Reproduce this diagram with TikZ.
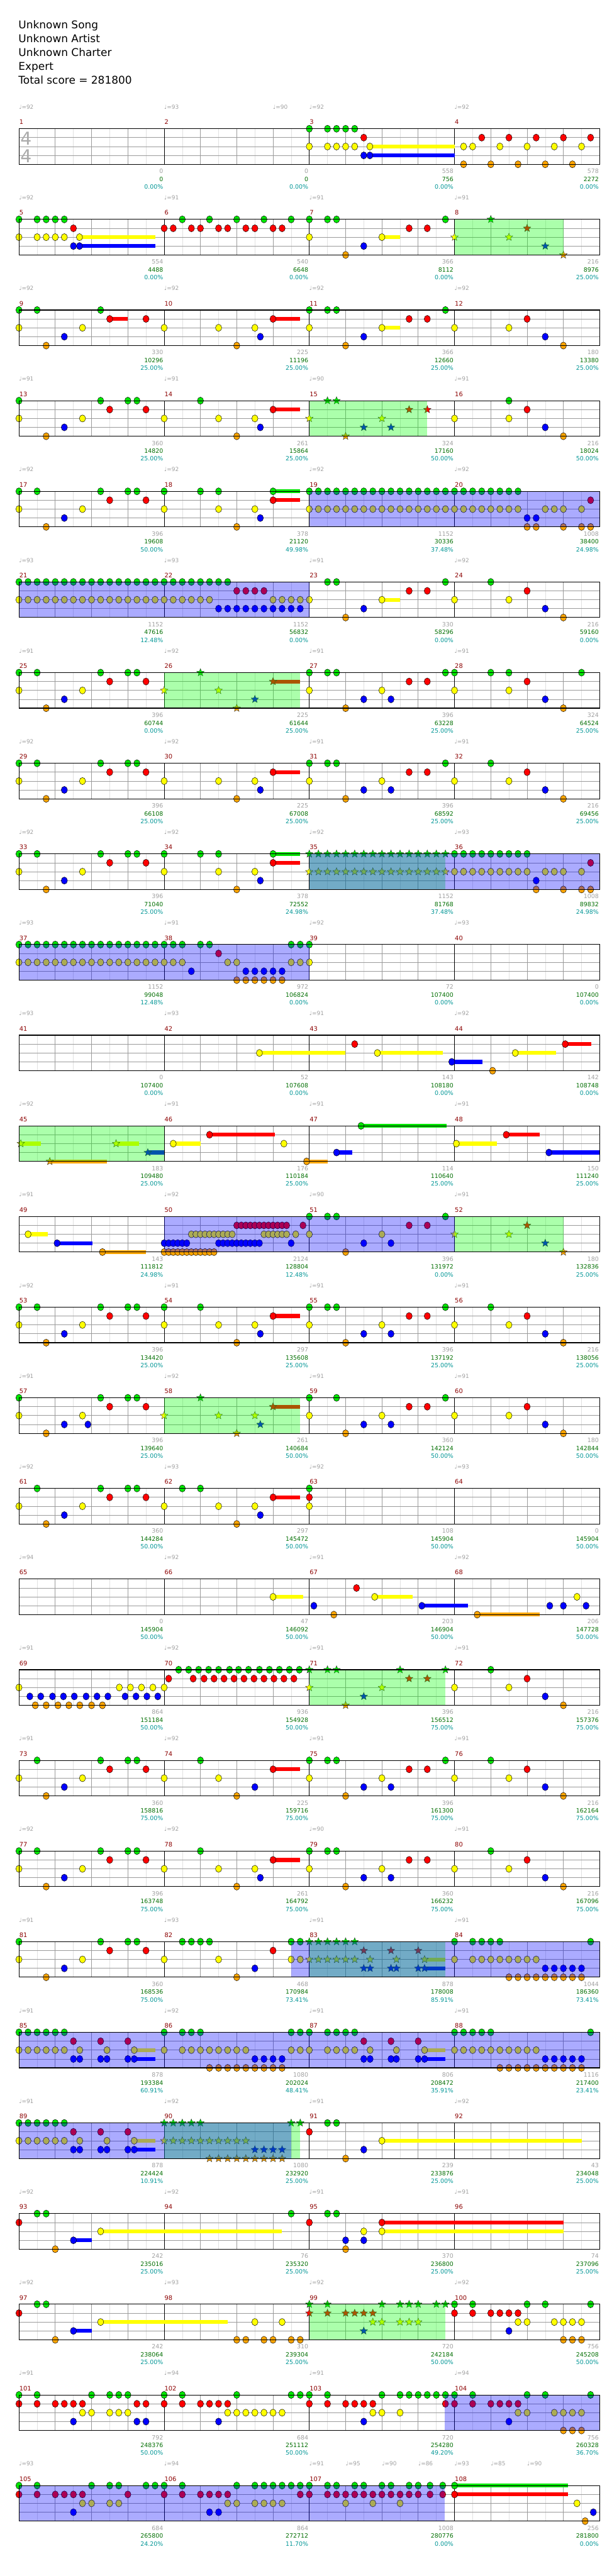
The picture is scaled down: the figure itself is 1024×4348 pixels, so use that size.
\documentclass[tikz,border=0pt]{standalone}
\usepackage{fontspec}
\setmainfont{DejaVu Sans}
\usetikzlibrary{shapes.geometric}
\definecolor{c0}{RGB}{0,230,0}
\definecolor{c1}{RGB}{255,0,0}
\definecolor{c2}{RGB}{255,255,0}
\definecolor{c3}{RGB}{0,0,255}
\definecolor{c4}{RGB}{255,165,0}
\definecolor{lgray}{RGB}{160,160,160}
\definecolor{lgreen}{RGB}{0,110,0}
\definecolor{lteal}{RGB}{0,150,150}
\definecolor{mred}{RGB}{140,0,0}
\definecolor{gline}{RGB}{155,155,155}
\definecolor{eline}{RGB}{225,225,225}
\tikzset{
  notec/.style={ellipse,draw=black,line width=0.5pt,minimum width=10.5pt,minimum height=12pt,inner sep=0pt},
  starc/.style={star,star points=5,star point ratio=2.3,draw=black!85,line width=0.4pt,minimum size=13.5pt,inner sep=0pt},
  eighthl/.style={eline,line width=0.6pt},
  quarterl/.style={gline,line width=0.8pt},
  lanel/.style={gline,line width=0.8pt},
  barl/.style={black,line width=0.7pt},
  borderl/.style={black,line width=1.2pt},
  smalltxt/.style={inner sep=0pt,font=\fontsize{10}{11}\selectfont},
}
\newcommand\nnote[2]{\foreach \q in {#2}{\node[notec,fill=c#1] at (\q,#1) {};}}
\newcommand\nstar[2]{\foreach \q in {#2}{\node[starc,fill=c#1] at (\q,#1) {};}}
\newcommand\nsus[3]{\fill[c#1] (#2,#1-0.22) rectangle (#3,#1+0.22);}
\newcommand\ngreen[2]{\fill[green,opacity=0.33] (#1,0) rectangle (#2,4);}
\newcommand\nblue[2]{\fill[blue,opacity=0.33] (#1,0) rectangle (#2,4);}
\newcommand\nlabels[1]{\foreach \a/\b/\c [count=\k] in {#1}{%
  \node[smalltxt,text=lgray,anchor=base east,xshift=-1.5pt,yshift=-15.3pt] at (16*\k,4) {\a};
  \node[smalltxt,text=lgreen,anchor=base east,xshift=-1.5pt,yshift=-28.7pt] at (16*\k,4) {\b};
  \node[smalltxt,text=lteal,anchor=base east,xshift=-1.5pt,yshift=-41.7pt] at (16*\k,4) {\c\%};}}
\newcommand\ntempo[1]{\foreach \a/\b in {#1}{%
  \node[inner sep=0pt,text=lgray,anchor=base west,yshift=33.3pt,font=\fontsize{9.5}{10}\selectfont] at (\a,0) {♩=\b};}}
\newcommand\nstaff{%
  \foreach \i in {2,6,...,62} \draw[eighthl] (\i,0)--(\i,4);
  \foreach \i in {4,8,...,60} \draw[quarterl] (\i,0)--(\i,4);
  \foreach \i in {1,2,3} \draw[lanel] (0,\i)--(64,\i);
  \foreach \i in {16,32,48} \draw[barl] (\i,0)--(\i,4);
  \draw[borderl] (0,0) rectangle (64,4);}
\newcommand\nrow[3]{%
  \begin{scope}[x=15.3125pt,y=-15pt,shift={(32pt,{-217.3pt-153pt*#1})}]
    \nstaff
    #3
    \draw[borderl] (0,0) rectangle (64,4);
    \foreach \k in {0,1,2,3}{\pgfmathtruncatemacro\mn{#2+\k}
      \node[inner sep=0pt,text=mred,anchor=base west,xshift=0.5pt,yshift=7.3pt,font=\fontsize{10.5}{11}\selectfont] at (16*\k,0) {\mn};}
  \end{scope}}
\begin{document}
\begin{tikzpicture}
\useasboundingbox (0,0) rectangle (1024pt,-4348pt);
\fill[white] (0,0) rectangle (1024pt,-4348pt);
\foreach \t [count=\i from 0] in {Unknown Song,Unknown Artist,Unknown Charter,Expert,Total score = 281800}
  \node[inner sep=0pt,anchor=base west,font=\fontsize{18}{20}\selectfont] (title\i) at (31pt,{-48.5pt-23.2pt*\i}) {\t};
% row 0
\nrow{0}{1}{
 \ntempo{0/92,16/93,28/90,32/92,48/92}
 \node[text=black!33,font=\fontsize{30}{30}\selectfont,inner sep=0pt] (ts1) at (0.78,1.08) {4};
 \node[text=black!33,font=\fontsize{30}{30}\selectfont,inner sep=0pt] (ts2) at (0.78,3.08) {4};
 \nsus{2}{38.67}{48}\nsus{3}{38.67}{48}
 \nnote{0}{32,34,35,36,37}
 \nnote{1}{38,51,54,57,60,63}
 \nnote{2}{32,34,35,36,37,38.67,49,50,53,56,59,62}
 \nnote{3}{38,38.67}
 \nnote{4}{49,52,55,58,61}
 \nlabels{0/0/0.00,0/0/0.00,558/756/0.00,578/2272/0.00}
}
% row 1
\nrow{1}{5}{
 \ntempo{0/92,16/91,32/91,48/91}
 \nsus{2}{6.67}{15}\nsus{3}{6.67}{15}\nsus{2}{40}{42}
 \nnote{0}{0,2,3,4,5,18,21,24,27,30,32,34,35,47}
 \nnote{1}{6,16,17,19,20,22,23,25,26,28,29,43,45}
 \nnote{2}{0,2,3,4,5,6.67,32,40}
 \nnote{3}{6,6.67,38}
 \nnote{4}{36}
 \nstar{0}{52}\nstar{1}{56}\nstar{2}{48,54}\nstar{3}{58}\nstar{4}{60}
 \ngreen{48}{60}
 \nlabels{554/4488/0.00,540/6648/0.00,366/8112/0.00,216/8976/25.00}
}
% row 2
\nrow{2}{9}{
 \ntempo{0/92,16/92,32/92,48/92}
 \nsus{1}{10}{12}\nsus{1}{28}{31}\nsus{2}{40}{42}
 \nnote{0}{0,2,9,32,34,35,47}
 \nnote{1}{10,14,28,43,45,56}
 \nnote{2}{0,7,16,22,26,32,40,48,54}
 \nnote{3}{5,26.6,38,58}
 \nnote{4}{3,24,36,60}
 \nlabels{330/10296/25.00,225/11196/25.00,366/12660/25.00,180/13380/25.00}
}
% row 3
\nrow{3}{13}{
 \ntempo{0/91,16/91,32/90,48/91}
 \nsus{1}{28}{31}
 \nnote{0}{0,9,12,13,20,54}
 \nnote{1}{10,14,28,56}
 \nnote{2}{0,7,16,22,26,48,54}
 \nnote{3}{5,26.6,58}
 \nnote{4}{3,24,60}
 \nstar{0}{34,35}\nstar{1}{43,45}\nstar{2}{32,40}\nstar{3}{38,41}\nstar{4}{36}
 \ngreen{32}{45}
 \nlabels{360/14820/25.00,261/15864/25.00,324/17160/50.00,216/18024/50.00}
}
% row 4
\nrow{4}{17}{
 \ntempo{0/92,16/92,32/92,48/92}
 \nsus{0}{28}{31}\nsus{1}{28}{31}
 \nnote{0}{0,2,9,12,13,16,20,22,28}
 \nnote{0}{32,33,...,55}
 \nnote{1}{10,14,28,63}
 \nnote{2}{0,7,16,22,26,58,59,60,62}
 \nnote{2}{32,33,...,55}
 \nnote{3}{5,26.6,56,57}
 \nnote{4}{3,24,56,57,60,62,63}
 \nblue{32}{64}
 \nlabels{396/19608/50.00,378/21120/49.98,1152/30336/37.48,1008/38400/24.98}
}
% row 5
\nrow{5}{21}{
 \ntempo{0/93,16/93,32/91,48/92}
 \nsus{2}{40}{42}
 \nnote{0}{0,1,...,23}
 \nnote{0}{34,35,47,52}
 \nnote{1}{24,25,26,27,43,45,56}
 \nnote{2}{0,1,...,21}
 \nnote{2}{28,29,30,31,32,40,48,54}
 \nnote{3}{22,23,...,31}
 \nnote{3}{38,58}
 \nnote{4}{36,60}
 \nblue{0}{32}
 \nlabels{1152/47616/12.48,1152/56832/0.00,330/58296/0.00,216/59160/0.00}
}
% row 6
\nrow{6}{25}{
 \ntempo{0/91,16/92,32/91,48/91}
 \nsus{1}{28}{31}
 \nnote{0}{0,2,9,12,13,32,34,35,47,48,52,54,62}
 \nnote{1}{10,14,43,45,56}
 \nnote{2}{0,7,32,40,48,54}
 \nnote{3}{5,38,41,58}
 \nnote{4}{3,36,60}
 \nstar{0}{20}\nstar{1}{28}\nstar{2}{16,22}\nstar{3}{26}\nstar{4}{24}
 \ngreen{16}{31}
 \nlabels{396/60744/0.00,225/61644/25.00,396/63228/25.00,324/64524/25.00}
}
% row 7
\nrow{7}{29}{
 \ntempo{0/92,16/92,32/91,48/91}
 \nsus{1}{28}{31}
 \nnote{0}{0,2,9,12,13,32,34,35,47,52}
 \nnote{1}{10,14,28,43,45,56}
 \nnote{2}{0,7,16,22,26,32,40,48,54}
 \nnote{3}{5,26.6,38,41,58}
 \nnote{4}{3,24,36,60}
 \nlabels{396/66108/25.00,225/67008/25.00,396/68592/25.00,216/69456/25.00}
}
% row 8
\nrow{8}{33}{
 \ntempo{0/92,16/92,32/92,48/93}
 \nsus{0}{28}{31}\nsus{1}{28}{31}
 \nnote{0}{0,2,9,12,13,16,20,22,28}
 \nnote{0}{48,49,...,56}
 \nnote{1}{10,14,28,63}
 \nnote{2}{0,7,16,22,26,58,59,60,62}
 \nnote{2}{48,49,...,56}
 \nnote{3}{5,26.6,57}
 \nnote{4}{3,24,57,60,62,63}
 \nstar{0}{32,33,...,47}\nstar{2}{32,33,...,47}
 \ngreen{32}{47}\nblue{32}{64}
 \nlabels{396/71040/25.00,378/72552/24.98,1152/81768/37.48,1008/89832/24.98}
}
% row 9
\nrow{9}{37}{
 \ntempo{0/93,16/91,32/92,48/93}
 \nnote{0}{0,1,...,18}
 \nnote{0}{20,21,30,31,32}
 \nnote{1}{22}
 \nnote{2}{0,1,...,18}
 \nnote{2}{23,24,30,31,32}
 \nnote{3}{19,25,26,27,28,29}
 \nnote{4}{24,25,26,27,28,29}
 \nblue{0}{32}
 \nlabels{1152/99048/12.48,972/106824/0.00,72/107400/0.00,0/107400/0.00}
}
% row 10
\nrow{10}{41}{
 \ntempo{0/93,16/93,32/91,48/92}
 \nsus{2}{26.5}{36}\nsus{2}{39.5}{46.7}\nsus{2}{54.7}{59.2}\nsus{1}{60.2}{63.1}\nsus{3}{47.7}{51.1}
 \nnote{1}{37,60.2}
 \nnote{2}{26.5,39.5,54.7}
 \nnote{3}{47.7}
 \nnote{4}{52.2}
 \nlabels{0/107400/0.00,52/107608/0.00,143/108180/0.00,142/108748/0.00}
}
% row 11
\nrow{11}{45}{
 \ntempo{0/92,16/91,32/91,48/91}
 \nsus{2}{0.2}{2.4}\nsus{2}{10.7}{13.2}\nsus{3}{14.2}{16}\nsus{4}{3.4}{9.7}
 \nsus{2}{17}{20}\nsus{1}{21}{28.2}\nsus{4}{31.7}{34}\nsus{3}{35}{36.7}\nsus{0}{37.7}{47.1}
 \nsus{2}{48.2}{52.7}\nsus{1}{53.7}{57.4}\nsus{3}{58.4}{64}
 \nstar{2}{0.2,10.7}\nstar{3}{14.2}\nstar{4}{3.4}
 \nnote{2}{17,29.2,48.2}
 \nnote{1}{21,53.7}
 \nnote{4}{31.7}
 \nnote{3}{35,58.4}
 \nnote{0}{37.7}
 \ngreen{0}{16}
 \nlabels{183/109480/25.00,176/110184/25.00,114/110640/25.00,150/111240/25.00}
}
% row 12
\nrow{12}{49}{
 \ntempo{0/91,16/92,32/90,48/91}
 \nsus{2}{1}{3.2}\nsus{3}{4.2}{8.1}\nsus{4}{9.2}{14}
 \nnote{2}{1,30.5,32,40}
 \nnote{2}{19,19.5,...,23.5}
 \nnote{2}{27,27.5,...,29.5}
 \nnote{3}{4.2,30,38,41}
 \nnote{3}{16,16.5,...,18.5}
 \nnote{3}{22,22.5,...,26.5}
 \nnote{4}{9.2,36}
 \nnote{4}{16,16.5,...,21.5}
 \nnote{1}{24,24.5,...,29.5}
 \nnote{1}{31.3,43,45}
 \nnote{0}{32,34,35,47}
 \nstar{2}{48,54}\nstar{1}{56}\nstar{3}{58}\nstar{4}{60}
 \ngreen{48}{60}\nblue{16}{48}
 \nlabels{143/111812/24.98,2124/128804/12.48,396/131972/0.00,180/132836/25.00}
}
% row 13
\nrow{13}{53}{
 \ntempo{0/92,16/91,32/91,48/91}
 \nsus{1}{28}{31}
 \nnote{0}{0,2,9,12,13,16,20,32,34,35,47,52}
 \nnote{1}{10,14,28,43,45,56}
 \nnote{2}{0,7,16,22,26,32,40,48,54}
 \nnote{3}{5,26.6,38,41,58}
 \nnote{4}{3,24,36,60}
 \nlabels{396/134420/25.00,297/135608/25.00,396/137192/25.00,216/138056/25.00}
}
% row 14
\nrow{14}{57}{
 \ntempo{0/91,16/92,32/91,48/91}
 \nsus{1}{28}{31}
 \nnote{0}{0,9,12,13,32,35,47}
 \nnote{1}{10,14,43,45,56}
 \nnote{2}{0,7,32,40,48,54}
 \nnote{3}{5,7.6,38,41,58}
 \nnote{4}{3,36,60}
 \nstar{0}{20}\nstar{1}{28}\nstar{2}{16,22,26}\nstar{3}{26.6}\nstar{4}{24}
 \ngreen{16}{31}
 \nlabels{396/139640/25.00,261/140684/50.00,360/142124/50.00,180/142844/50.00}
}
% row 15
\nrow{15}{61}{
 \ntempo{0/92,16/93,32/92,48/93}
 \nsus{1}{28}{31}
 \nnote{0}{2,9,12,13,18,20,32}
 \nnote{1}{10,14,28,32}
 \nnote{2}{0,7,16,22,26,32}
 \nnote{3}{5,26.6}
 \nnote{4}{3,24}
 \nlabels{360/144284/50.00,297/145472/50.00,108/145904/50.00,0/145904/50.00}
}
% row 16
\nrow{16}{65}{
 \ntempo{0/94,16/92,32/91,48/92}
 \nsus{2}{28}{31.3}\nsus{2}{39.2}{43.4}\nsus{3}{44.4}{49.5}\nsus{4}{50.5}{57.4}
 \nnote{2}{28,39.2,61.5}
 \nnote{1}{37.2}
 \nnote{3}{32.5,44.4,58.5,60,62.5}
 \nnote{4}{34.7,50.5}
 \nlabels{0/145904/50.00,47/146092/50.00,203/146904/50.00,206/147728/50.00}
}
% row 17
\nrow{17}{69}{
 \ntempo{0/91,16/92,32/91,48/91}
 \nnote{2}{0,11.06,12.28,13.5,14.76,16,48,54}
 \nnote{3}{1.2,2.4,3.7,4.9,6.1,7.4,8.6,9.8,11.7,12.9,14.1,15.3,58}
 \nnote{4}{1.8,3.0,4.3,5.5,6.7,8,9.2,60}
 \nnote{1}{16.5,19.2,20.4,21.5,22.6,23.7,24.8,25.9,27,28.1,29.2,30.3,56}
 \nnote{0}{17.6,18.7,19.8,20.9,22,23.2,24.2,25.3,26.5,27.6,28.7,29.8,30.9,52}
 \nstar{0}{32,34,35,42,47}\nstar{1}{43,45}\nstar{2}{32,40}\nstar{3}{38}\nstar{4}{36}
 \ngreen{32}{47}
 \nlabels{864/151184/50.00,936/154928/50.00,396/156512/75.00,216/157376/75.00}
}
% row 18
\nrow{18}{73}{
 \ntempo{0/91,16/92,32/91,48/91}
 \nsus{1}{28}{31}
 \nnote{0}{2,9,12,13,20,32,34,35,47,52}
 \nnote{1}{10,14,28,43,45,56}
 \nnote{2}{0,7,16,22,32,40,48,54}
 \nnote{3}{5,26,38,41,58}
 \nnote{4}{3,24,36,60}
 \nlabels{360/158816/75.00,225/159716/75.00,396/161300/75.00,216/162164/75.00}
}
% row 19
\nrow{19}{77}{
 \ntempo{0/92,16/92,32/90,48/91}
 \nsus{1}{28}{31}
 \nnote{0}{0,2,9,12,13,20,32,34,35,52}
 \nnote{1}{10,14,28,43,45,56}
 \nnote{2}{0,7,16,22,26,32,40,48,54}
 \nnote{3}{5,26.6,38,41,58}
 \nnote{4}{3,24,36,60}
 \nlabels{396/163748/75.00,261/164792/75.00,360/166232/75.00,216/167096/75.00}
}
% row 20
\nrow{20}{81}{
 \ntempo{0/91,16/93,32/91,48/91}
 \nsus{2}{44.7}{47}\nsus{3}{44.7}{47}
 \nnote{0}{0,9,12,13,18,19,20,21,30,31,48,50,51,52,53,63}
 \nnote{1}{10,14,28}
 \nnote{2}{0,7,16,22,30,31,48}
 \nnote{2}{50,51,...,57}
 \nnote{3}{5,26,58,59,60,61,62}
 \nnote{4}{3,24}
 \nnote{4}{54,55,...,62}
 \nstar{0}{32,33,...,37}
 \nstar{1}{38,41,44}
 \nstar{2}{32,33,34,35,36,37,38.7,41.6,44.7}
 \nstar{3}{38,38.7,41,41.6,44,44.7}
 \ngreen{32}{47}\nblue{30}{64}
 \nlabels{360/168536/75.00,468/170984/73.41,878/178008/85.91,1044/186360/73.41}
}
% row 21
\nrow{21}{85}{
 \ntempo{0/91,16/92,32/91,48/91}
 \nsus{2}{12.7}{15}\nsus{3}{12.7}{15}\nsus{2}{44.7}{47}\nsus{3}{44.7}{47}
 \nnote{0}{0,1,2,3,4,5,16,18,19,20,30,31,32,34,35,36,37,48,49,50,51,52,63}
 \nnote{1}{6,9,12,38,41,44}
 \nnote{2}{0,1,2,3,4,5,6.7,9.7,12.7,16,30,31,32,34,35,36,37,38.7,41.6,44.7}
 \nnote{2}{18,19,...,25}
 \nnote{2}{48,49,...,57}
 \nnote{3}{6,6.7,9,9.7,12,12.7,26,27,28,29,38,38.7,41,41.6,44,44.7,58,59,60,61,62}
 \nnote{4}{21,22,...,29}
 \nnote{4}{53,54,...,62}
 \nblue{0}{64}
 \nlabels{878/193384/60.91,1080/202024/48.41,806/208472/35.91,1116/217400/23.41}
}
% row 22
\nrow{22}{89}{
 \ntempo{0/91,16/92,32/91,48/92}
 \nsus{2}{12.7}{15}\nsus{3}{12.7}{15}\nsus{2}{40}{62}
 \nnote{0}{0,1,2,3,4,5,34,35}
 \nnote{1}{6,9,12,32}
 \nnote{2}{0,1,2,3,4,5,6.7,9.7,12.7,40}
 \nnote{3}{6,6.7,9,9.7,12,12.7,38}
 \nnote{4}{36}
 \nstar{0}{16,17,18,19,20,30,31}
 \nstar{2}{16,17,...,25}
 \nstar{3}{26,27,28,29}
 \nstar{4}{21,22,...,29}
 \ngreen{16}{31}\nblue{0}{30}
 \nlabels{878/224424/10.91,1080/232920/25.00,239/233876/25.00,43/234048/25.00}
}
% row 23
\nrow{23}{93}{
 \ntempo{0/92,16/92,32/91,48/91}
 \nsus{3}{6}{8}\nsus{2}{9}{29}\nsus{1}{40}{60}\nsus{2}{40}{60}
 \nnote{0}{2,3,30,34,35}
 \nnote{1}{0,32,40}
 \nnote{2}{9,38,40}
 \nnote{3}{6,36,38}
 \nnote{4}{4,36}
 \nlabels{242/235016/25.00,76/235320/25.00,370/236800/25.00,74/237096/25.00}
}
% row 24
\nrow{24}{97}{
 \ntempo{0/92,16/93,32/92,48/92}
 \nsus{3}{6}{8}\nsus{2}{9}{23}
 \nnote{0}{2,3,48,50,56,58,63}
 \nnote{1}{0,48,50,52,53,54,55}
 \nnote{2}{9,26,29,55,56,59,60,61,62}
 \nnote{3}{6,54}
 \nnote{4}{4,24,25,27,28,30,31,60,61,62}
 \nstar{0}{32,34,40,42,43,44,46,47}
 \nstar{1}{32,34,36,37,38,39}
 \nstar{2}{39,40,42,43,44}
 \nstar{3}{38}
 \ngreen{32}{47}
 \nlabels{242/238064/25.00,310/239304/25.00,720/242184/50.00,756/245208/50.00}
}
% row 25
\nrow{25}{101}{
 \ntempo{0/91,16/94,32/91,48/94}
 \nnote{0}{0,2,8,10,11,12,16,18,24,30,31,32,34,40,42,43,44,45,46,47,48,50,56,58,63}
 \nnote{1}{0,2,4,5,6,7,13,14,16,18,20,21,22,23,32,34,36,37,38,39,47,48,50,52,53,54,55}
 \nnote{2}{7,8,10,11,12,23,24,25,26,27,28,29,39,40,42,55,56,59,60,61,62}
 \nnote{3}{6,13,14,22,38,54}
 \nnote{4}{60,61,62}
 \nblue{46.9}{64}
 \nlabels{792/248376/50.00,684/251112/50.00,720/254280/49.20,756/260328/36.70}
}
% row 26
\nrow{26}{105}{
 \ntempo{0/93,16/94,32/91,36/95,40/90,44/86,48/93,52/85,56/90}
 \nsus{0}{48}{60.5}\nsus{1}{48}{60.5}
 \nnote{0}{0,2,8,10,11,14,15,16,18,24,26,27,28,29,30,31,32,34,35,37,38,40,41,43,44,45.3,46.7,48}
 \nnote{1}{0,2,4,5,6,7,12,16,18,20,21,22,23,31,32,34,35,36,37,38,39,40,41,42,43,44,45.3,46.7,48}
 \nnote{2}{7,8,10,11,23,24,26,27,28,29,36,39,42,61.5}
 \nnote{3}{6,21,22,63.3}
 \nnote{4}{62.4}
 \nblue{0}{46.9}
 \nlabels{684/265800/24.20,864/272712/11.70,1008/280776/0.00,256/281800/0.00}
}
\end{tikzpicture}
\end{document}
